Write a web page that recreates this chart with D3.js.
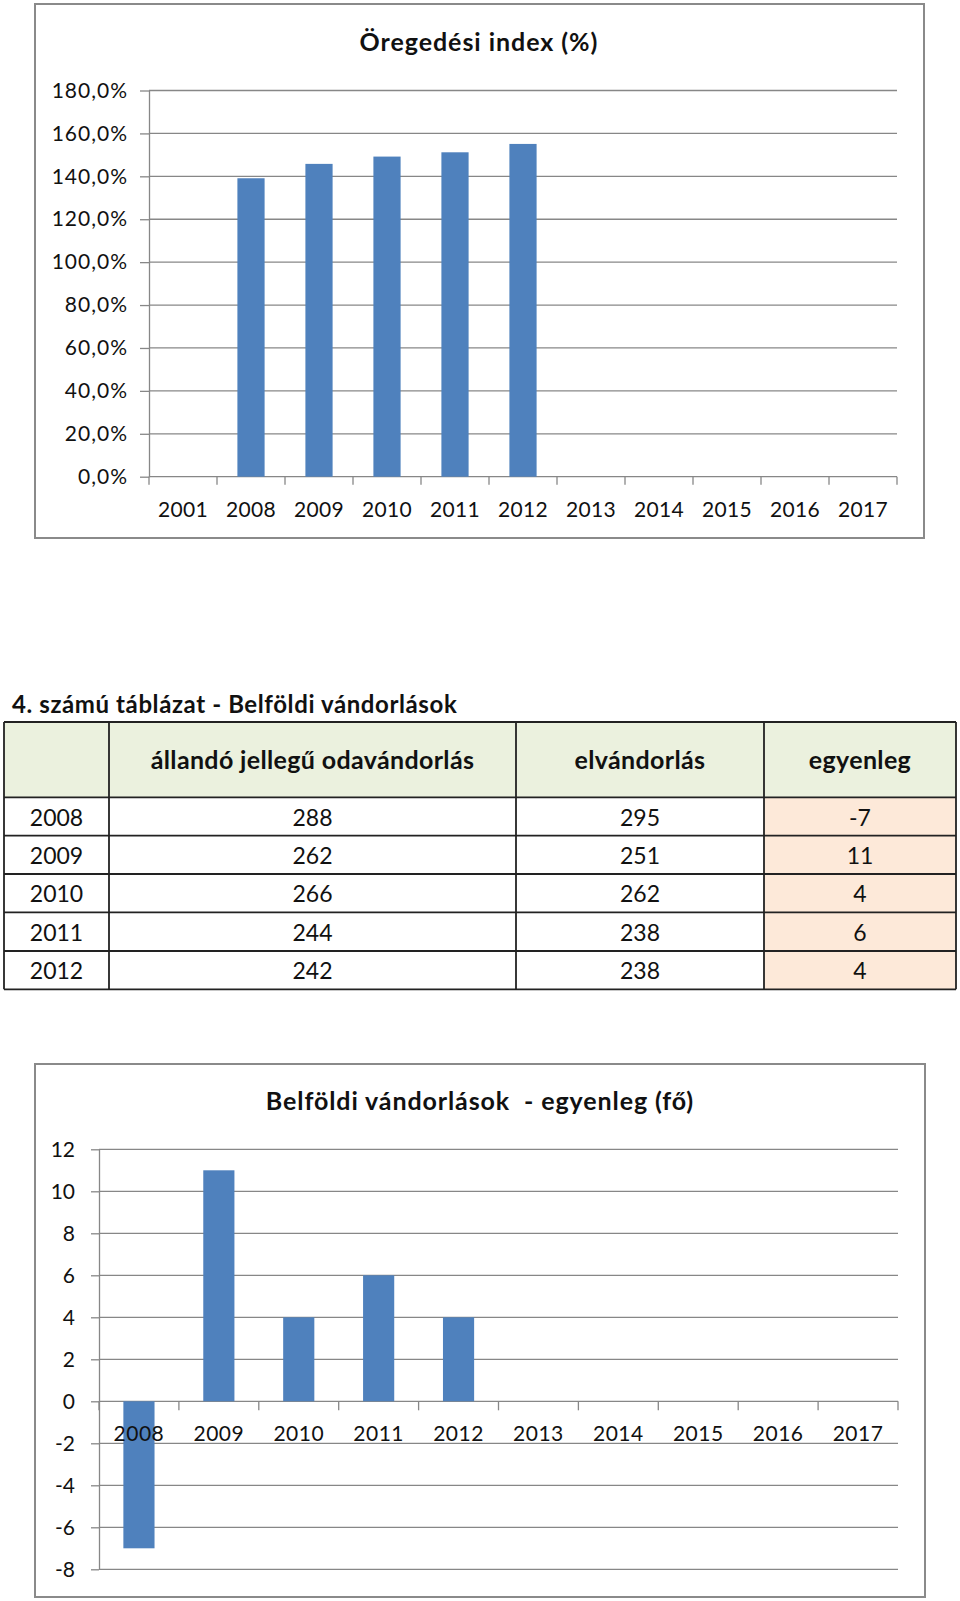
<!DOCTYPE html>
<html>
<head>
<meta charset="utf-8">
<script src="https://cdn.jsdelivr.net/npm/d3@7"></script>
<style>
  body { margin: 0; background: #fff; }
  svg text { font-family: Lato, "Open Sans", sans-serif; fill: #111; }
</style>
</head>
<body>
<svg id="page" width="960" height="1601"></svg>
<script>
// Data
const indexYears = ['2001', '2008', '2009', '2010', '2011', '2012', '2013', '2014', '2015', '2016', '2017'];
const agingIndex = [null, 139.1, 145.8, 149.2, 151.2, 155.1, null, null, null, null, null];
const indexTicks = [0, 20, 40, 60, 80, 100, 120, 140, 160, 180];

const tableHeaders = ['', 'állandó jellegű odavándorlás', 'elvándorlás', 'egyenleg'];
const tableYears = ['2008', '2009', '2010', '2011', '2012'];
const inMigration = [288, 262, 266, 244, 242];
const outMigration = [295, 251, 262, 238, 238];
const balance = [-7, 11, 4, 6, 4];

const balanceYears = ['2008', '2009', '2010', '2011', '2012', '2013', '2014', '2015', '2016', '2017'];
const balanceValues = [-7, 11, 4, 6, 4, null, null, null, null, null];
const balanceTicks = [-8, -6, -4, -2, 0, 2, 4, 6, 8, 10, 12];

const barColor = '#4f81bd';
const gridColor = '#878787';
const hu = d3.formatLocale({decimal: ',', thousands: ' ', grouping: [3], currency: ['', ' Ft'], minus: '-'});
const pct = v => hu.format('.1f')(v) + '%';

const svg = d3.select('#page');

// ---------- chart 1: Öregedési index ----------
const c1 = svg.append('g');
c1.append('rect')
    .attr('x', 35).attr('y', 4).attr('width', 889).attr('height', 534)
    .attr('fill', '#fff').attr('stroke', '#8a8a8a').attr('stroke-width', 2);

c1.append('text')
    .attr('x', 479).attr('y', 51)
    .attr('text-anchor', 'middle')
    .style('font-size', '25px').style('font-weight', 'bold')
    .style('letter-spacing', '0.95px')
    .text('Öregedési index (%)');

const x1 = d3.scaleBand()
    .domain(indexYears)
    .range([149, 897])
    .paddingInner(0.6)
    .paddingOuter(0.3);
const y1 = d3.scaleLinear()
    .domain([0, 180])
    .range([476.7, 90.5]);

// gridlines
c1.append('g').selectAll('line')
    .data(indexTicks)
    .join('line')
    .attr('x1', 149).attr('x2', 897)
    .attr('y1', d => y1(d)).attr('y2', d => y1(d))
    .attr('stroke', gridColor).attr('stroke-width', 1.3);

// bars
c1.append('g').selectAll('rect')
    .data(indexYears.map((d, i) => ({year: d, value: agingIndex[i]})).filter(d => d.value != null))
    .join('rect')
    .attr('x', d => x1(d.year))
    .attr('width', x1.bandwidth())
    .attr('y', d => y1(d.value))
    .attr('height', d => y1(0) - y1(d.value))
    .attr('fill', barColor);

// y axis
const yAxis1 = c1.append('g')
    .attr('transform', 'translate(149,0)')
    .call(d3.axisLeft(y1).tickValues(indexTicks).tickSize(9).tickSizeOuter(0).tickPadding(12).tickFormat(pct));
yAxis1.select('.domain').attr('stroke', gridColor).attr('stroke-width', 1.3);
yAxis1.selectAll('.tick line').attr('stroke', gridColor).attr('stroke-width', 1.3);
yAxis1.selectAll('.tick text').style('font-size', '21px').style('letter-spacing', '1px').attr('fill', '#111');

// x axis ticks at category boundaries
const step1 = x1.step();
const bounds1 = indexYears.map(d => x1(d) - step1 * x1.paddingOuter()).concat([x1.range()[1]]);
c1.append('g').selectAll('line')
    .data(bounds1)
    .join('line')
    .attr('x1', d => d).attr('x2', d => d)
    .attr('y1', y1(0)).attr('y2', y1(0) + 8)
    .attr('stroke', gridColor).attr('stroke-width', 1.3);
c1.append('g').selectAll('text')
    .data(indexYears)
    .join('text')
    .attr('x', d => x1(d) + x1.bandwidth() / 2)
    .attr('y', 517)
    .attr('text-anchor', 'middle')
    .style('font-size', '21px')
    .style('letter-spacing', '0.3px')
    .text(d => d);

// ---------- table ----------
const tbl = svg.append('g');
tbl.append('text')
    .attr('x', 12).attr('y', 713)
    .style('font-size', '24px').style('font-weight', 'bold')
    .style('letter-spacing', '0.6px')
    .text('4. számú táblázat - Belföldi vándorlások');

const colEdges = [4, 109, 516, 764, 956];
const rowEdges = [722, 797.3, 835.7, 874, 912.3, 951, 989.3];
const rows = tableYears.map((y, i) => [y, inMigration[i], outMigration[i], balance[i]]);

// cell fills
tableHeaders.forEach((h, c) => {
    tbl.append('rect')
        .attr('x', colEdges[c]).attr('y', rowEdges[0])
        .attr('width', colEdges[c + 1] - colEdges[c]).attr('height', rowEdges[1] - rowEdges[0])
        .attr('fill', '#ebf1de');
});
rows.forEach((r, i) => {
    tbl.append('rect')
        .attr('x', colEdges[3]).attr('y', rowEdges[i + 1])
        .attr('width', colEdges[4] - colEdges[3]).attr('height', rowEdges[i + 2] - rowEdges[i + 1])
        .attr('fill', '#fde9d9');
});

// grid lines
tbl.append('g').selectAll('line')
    .data(rowEdges)
    .join('line')
    .attr('x1', colEdges[0]).attr('x2', colEdges[4])
    .attr('y1', d => d).attr('y2', d => d)
    .attr('stroke', '#222').attr('stroke-width', 1.8);
tbl.append('g').selectAll('line')
    .data(colEdges)
    .join('line')
    .attr('x1', d => d).attr('x2', d => d)
    .attr('y1', rowEdges[0]).attr('y2', rowEdges[rowEdges.length - 1])
    .attr('stroke', '#222').attr('stroke-width', 1.8);

const colCenter = c => (colEdges[c] + colEdges[c + 1]) / 2;
tbl.append('g').selectAll('text')
    .data(tableHeaders)
    .join('text')
    .attr('x', (d, c) => colCenter(c))
    .attr('y', 769)
    .attr('text-anchor', 'middle')
    .style('font-size', '25px').style('font-weight', 'bold')
    .style('letter-spacing', '0.35px')
    .text(d => d);
rows.forEach((r, i) => {
    tbl.append('g').selectAll('text')
        .data(r)
        .join('text')
        .attr('x', (d, c) => colCenter(c))
        .attr('y', rowEdges[i + 2] - 10)
        .attr('text-anchor', 'middle')
        .style('font-size', '23px')
        .text(d => d);
});

// ---------- chart 2: Belföldi vándorlások - egyenleg ----------
const c2 = svg.append('g');
c2.append('rect')
    .attr('x', 35).attr('y', 1064).attr('width', 890).attr('height', 533)
    .attr('fill', '#fff').attr('stroke', '#8a8a8a').attr('stroke-width', 2);

c2.append('text')
    .attr('x', 480).attr('y', 1110)
    .attr('text-anchor', 'middle')
    .style('font-size', '25px').style('font-weight', 'bold')
    .style('letter-spacing', '0.9px')
    .style('white-space', 'pre')
    .text('Belföldi vándorlások  - egyenleg (fő)');

const x2 = d3.scaleBand()
    .domain(balanceYears)
    .range([99, 898])
    .paddingInner(0.61)
    .paddingOuter(0.305);
const y2 = d3.scaleLinear()
    .domain([-8, 12])
    .range([1569.3, 1149.3]);

c2.append('g').selectAll('line')
    .data(balanceTicks)
    .join('line')
    .attr('x1', 99).attr('x2', 898)
    .attr('y1', d => y2(d)).attr('y2', d => y2(d))
    .attr('stroke', gridColor).attr('stroke-width', 1.3);

c2.append('g').selectAll('rect')
    .data(balanceYears.map((d, i) => ({year: d, value: balanceValues[i]})).filter(d => d.value != null))
    .join('rect')
    .attr('x', d => x2(d.year))
    .attr('width', x2.bandwidth())
    .attr('y', d => y2(Math.max(0, d.value)))
    .attr('height', d => Math.abs(y2(d.value) - y2(0)))
    .attr('fill', barColor);

const yAxis2 = c2.append('g')
    .attr('transform', 'translate(99,0)')
    .call(d3.axisLeft(y2).tickValues(balanceTicks).tickSize(8).tickSizeOuter(0).tickPadding(16).tickFormat(hu.format('d')));
yAxis2.select('.domain').attr('stroke', gridColor).attr('stroke-width', 1.3);
yAxis2.selectAll('.tick line').attr('stroke', gridColor).attr('stroke-width', 1.3);
yAxis2.selectAll('.tick text').style('font-size', '21px').attr('fill', '#111');

const step2 = x2.step();
const bounds2 = balanceYears.map(d => x2(d) - step2 * x2.paddingOuter()).concat([x2.range()[1]]);
c2.append('g').selectAll('line')
    .data(bounds2)
    .join('line')
    .attr('x1', d => d).attr('x2', d => d)
    .attr('y1', y2(0)).attr('y2', y2(0) + 9)
    .attr('stroke', gridColor).attr('stroke-width', 1.3);
c2.append('g').selectAll('text')
    .data(balanceYears)
    .join('text')
    .attr('x', d => x2(d) + x2.bandwidth() / 2)
    .attr('y', 1441)
    .attr('text-anchor', 'middle')
    .style('font-size', '21px')
    .style('letter-spacing', '0.5px')
    .text(d => d);
</script>
</body>
</html>
